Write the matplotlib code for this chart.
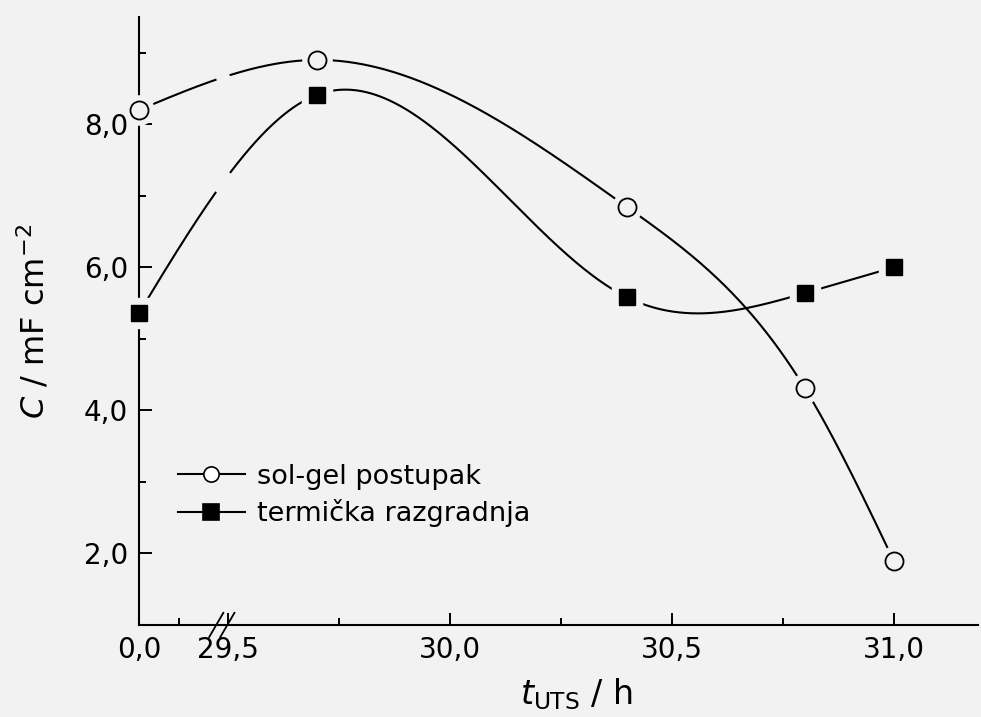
import numpy as np
import matplotlib
matplotlib.use("Agg")
import matplotlib.pyplot as plt
from matplotlib.ticker import FixedLocator, FixedFormatter

plt.rcParams['font.family'] = ['DejaVu Sans']
plt.rcParams['mathtext.fontset'] = 'dejavusans'

# vrijeme (h) i kapacitet (mF cm^-2)
t = np.array([0.0, 29.7, 30.4, 30.8, 31.0])
c_solgel = np.array([8.20, 8.90, 6.84, 4.31, 1.90])
c_termicka = np.array([5.36, 8.41, 5.58, 5.64, 6.00])
labels = ['sol-gel postupak', 'termička razgradnja']

x_major = [0.0, 29.5, 30.0, 30.5, 31.0]
x_major_lab = ['0,0', '29,5', '30,0', '30,5', '31,0']
x_minor = [0.09, 29.75, 30.25, 30.75]
y_major = [2, 4, 6, 8]
y_major_lab = ['2,0', '4,0', '6,0', '8,0']
y_minor = [3, 5, 7, 9]

bg = '#f2f2f2'
POMAK = 29.3  # prekinuta os: 0 h se crta odmah ispred 29,5 h


def naprijed(x):
    x = np.asarray(x, dtype=float)
    return np.where(x < 15, x + POMAK, x)


def nazad(u):
    u = np.asarray(u, dtype=float)
    return np.where(u < 29.5, u - POMAK, u)


def spline(xk, yk, xs):
    # prirodni kubni spline
    n = len(xk)
    h = np.diff(xk)
    A = np.zeros((n, n))
    r = np.zeros(n)
    A[0, 0] = A[-1, -1] = 1
    for i in range(1, n - 1):
        A[i, i - 1] = h[i - 1]
        A[i, i] = 2 * (h[i - 1] + h[i])
        A[i, i + 1] = h[i]
        r[i] = 6 * ((yk[i + 1] - yk[i]) / h[i] - (yk[i] - yk[i - 1]) / h[i - 1])
    M = np.linalg.solve(A, r)
    idx = np.clip(np.searchsorted(xk, xs) - 1, 0, n - 2)
    x0 = xk[idx]
    x1 = xk[idx + 1]
    hh = x1 - x0
    a = x1 - xs
    b = xs - x0
    return (M[idx] * a**3 / (6 * hh) + M[idx + 1] * b**3 / (6 * hh)
            + (yk[idx] / hh - M[idx] * hh / 6) * a
            + (yk[idx + 1] / hh - M[idx + 1] * hh / 6) * b)


fig = plt.figure(figsize=(9.81, 7.17), dpi=100, facecolor=bg)
ax = fig.add_axes([139 / 981, 92 / 717, 839 / 981, 608 / 717], facecolor=bg)
ax.set_xscale('function', functions=(naprijed, nazad))

stil = {'o': dict(ms=13, mew=1.3), 's': dict(ms=12, mew=1.0)}

for y, mk, fc in [(c_solgel, 'o', bg), (c_termicka, 's', 'k')]:
    uk = naprijed(t)
    us = np.linspace(uk[0], uk[-1], 800)
    ys = spline(uk, y, us)
    ys[(us > 29.473) & (us < 29.505)] = np.nan
    ax.plot(nazad(us), ys, color='k', lw=1.5, zorder=2, clip_on=False)
    ax.plot(t, y, ls='none', marker=mk, ms=21, mfc=bg, mec=bg, zorder=3, clip_on=False)
    ax.plot(t, y, ls='none', marker=mk, mfc=fc, mec='k', zorder=4, clip_on=False,
            **stil[mk])

# legenda
for lab, mk, fc in [(labels[0], 'o', 'white'), (labels[1], 's', 'k')]:
    ax.plot([], [], color='k', lw=1.5, marker=mk, ms=11, mfc=fc, mec='k',
            mew=1.2, label=lab)
h, l = ax.get_legend_handles_labels()
ax.legend(h[-2:], l[-2:], loc='upper left', bbox_to_anchor=(0.046, 0.265),
          frameon=False, fontsize=19.5, handlelength=2.5, handletextpad=0.45,
          labelspacing=0.35, borderaxespad=0, borderpad=0)

ax.set_xlim(0.0, 31.19)
ax.set_ylim(1.0, 9.5)
ax.xaxis.set_major_locator(FixedLocator(x_major))
ax.xaxis.set_major_formatter(FixedFormatter(x_major_lab))
ax.xaxis.set_minor_locator(FixedLocator(x_minor))
ax.yaxis.set_major_locator(FixedLocator(y_major))
ax.yaxis.set_major_formatter(FixedFormatter(y_major_lab))
ax.yaxis.set_minor_locator(FixedLocator(y_minor))

for s in ['top', 'right']:
    ax.spines[s].set_visible(False)
for s in ['left', 'bottom']:
    ax.spines[s].set_linewidth(1.5)
ax.tick_params(which='major', direction='in', length=9, width=1.4, labelsize=20, pad=8)
ax.tick_params(which='minor', direction='in', length=5, width=1.4)

# oznaka prekida osi
for dx in [0.0, 0.025]:
    ax.plot([29.458 + dx, 29.49 + dx], [-0.02, 0.02], color='k', lw=1.3,
            transform=ax.get_xaxis_transform(), clip_on=False, zorder=5)

ax.set_xlabel(r'$t_{\mathregular{UTS}}$ / h', fontsize=24)
ax.xaxis.set_label_coords(0.521, -0.085, transform=ax.transAxes)
ax.xaxis.label.set_va('top')
ax.set_ylabel(r'$C$ / mF cm$^{\mathregular{-2}}$', fontsize=23, labelpad=23)

fig.savefig('out.png', dpi=100, facecolor=bg)
